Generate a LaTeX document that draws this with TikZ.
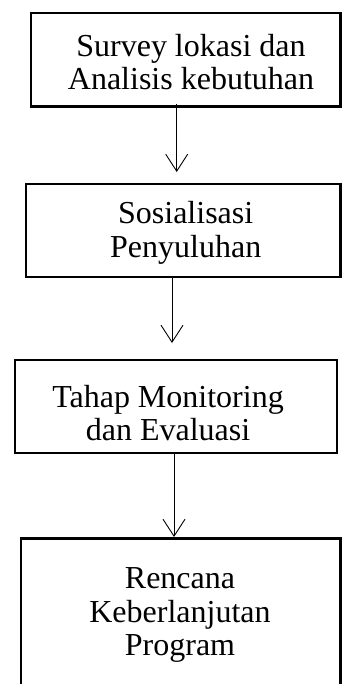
\documentclass[tikz,border=0pt]{standalone}
\usepackage{fontspec}
\setmainfont{Liberation Serif}
\usepackage{tikz}
\usetikzlibrary{arrows.meta,positioning,calc}
\tikzset{
  >={Straight Barb[length=17pt,width=22pt]},
  % kotak alur
  kotak/.style={draw=black,line width=2.2pt,inner sep=0pt},
  isi/.style={align=center,inner sep=0pt,
              font=\fontsize{32}{33.5}\selectfont},
  alur/.style={->,draw=black,line width=0.9pt},
}
\begin{document}
\begin{tikzpicture}[x=1pt,y=1pt]
\useasboundingbox (0,0) rectangle (342,-684);
  \node[kotak,minimum width=309.5,minimum height=93.5] (survey) at (185.75,-59.75) {};
  \node[kotak,minimum width=314.5,minimum height=93] (sosial) at (183.25,-230.5) {};
  \node[kotak,minimum width=322,minimum height=93] (monev) at (176,-406.5) {};
  \node[kotak,minimum width=319.5,minimum height=163] (lanjut) at (180.75,-620) {};
  \node[isi] (survey-t) at (191,-62) {Survey lokasi dan\\Analisis kebutuhan};
  \node[isi] (sosial-t) at (185.7,-233) {Sosialisasi\\Penyuluhan};
  \node[isi] (monev-t) at (168,-413) {Tahap Monitoring\\dan Evaluasi};
  \node[isi] (lanjut-t) at (180,-615) {Rencana\\Keberlanjutan\\Program};
  % panah
  \coordinate (p1) at (176.7,-172);
  \coordinate (p2) at (172,-343);
  \coordinate (p3) at (174,-537);
  \draw[alur] ([yshift=4]survey.south -| p1) -- (p1);
  \draw[alur] (sosial.south -| p2) -- (p2);
  \draw[alur] (monev.south -| p3) -- (p3);
\end{tikzpicture}
\end{document}
